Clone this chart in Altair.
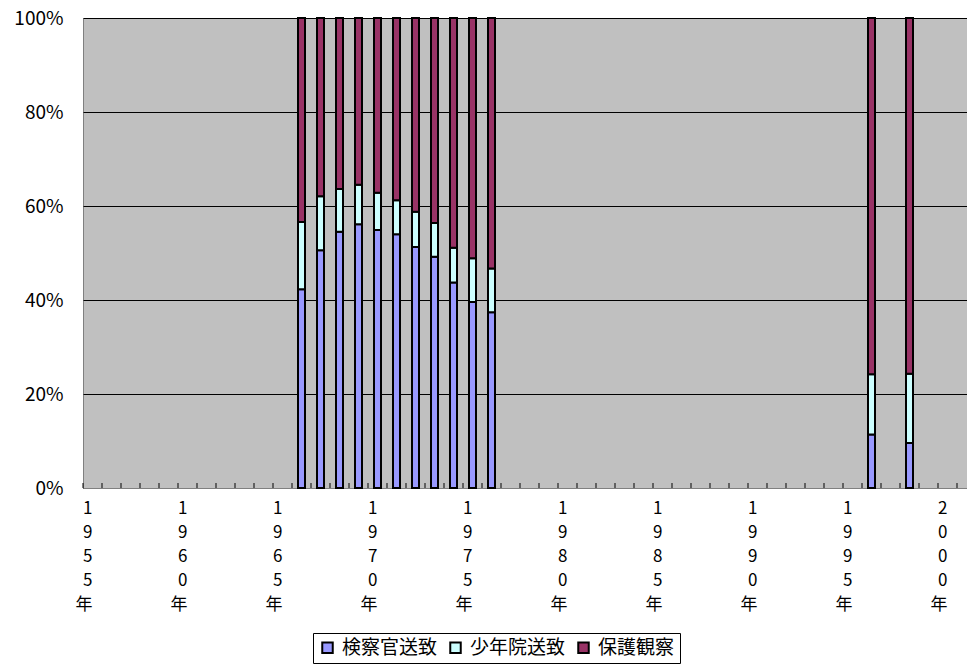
import altair as alt
import pandas as pd

# categories on the x axis (one band per year)
years = [str(y) for y in range(1955, 2002)]

# years that have data
data_years = ["1966", "1967", "1968", "1969", "1970", "1971", "1972",
              "1973", "1974", "1975", "1976", "1996", "1998"]
# shares (%)
kensatsu = [42.3, 50.6, 54.5, 56.1, 54.9, 54.0, 51.3, 49.2, 43.7, 39.6, 37.4, 11.4, 9.6]
shonenin = [14.3, 11.5, 9.1, 8.4, 7.9, 7.2, 7.5, 7.2, 7.4, 9.3, 9.3, 12.8, 14.7]
hogo = [43.4, 37.9, 36.4, 35.5, 37.2, 38.8, 41.2, 43.6, 48.9, 51.1, 53.3, 75.8, 75.7]

series = ["検察官送致", "少年院送致", "保護観察"]
colors = ["#9999FF", "#CCFFFF", "#993366"]

rows = []
for i, y in enumerate(data_years):
    for k, (name, vals) in enumerate(zip(series, [kensatsu, shonenin, hogo])):
        rows.append({"year": y, "series": name, "value": vals[i], "order": k})
df = pd.DataFrame(rows)
ticks_df = pd.DataFrame({"year": years})

FONT = "Noto Sans CJK JP"
W, H = 884, 470
XRANGE = 893  # 47 bands of 19px; the last part is cut off at the window edge

xscale = alt.Scale(domain=years, paddingInner=0, paddingOuter=0, range=[0, XRANGE])

bars = alt.Chart(df).mark_bar(size=7, stroke="black", strokeWidth=2).encode(
    x=alt.X("year:N", scale=xscale, sort=years,
            axis=alt.Axis(title=None, labelAngle=0, ticks=False, domain=True,
                          domainColor="#808080", domainWidth=1,
                          labelExpr="toNumber(datum.value) % 5 == 0 ? split(datum.value + '年', '') : ''",
                          labelFont=FONT, labelFontSize=17, labelColor="black",
                          labelLineHeight=24, labelPadding=12, labelOverlap=False,
                          labelBaseline="top")),
    y=alt.Y("value:Q", stack="normalize",
            scale=alt.Scale(domain=[0, 1], nice=False),
            axis=alt.Axis(title=None, format=".0%", values=[0, 0.2, 0.4, 0.6, 0.8, 1.0],
                          grid=True, gridColor="black", gridOpacity=1, gridWidth=1,
                          ticks=False, domain=False, labelFont=FONT, labelFontSize=19,
                          labelColor="black", labelPadding=20)),
    color=alt.Color("series:N", scale=alt.Scale(domain=series, range=colors),
                    legend=alt.Legend(title=None, orient="none", direction="horizontal",
                                      legendX=230, legendY=615,
                                      symbolType="square", symbolSize=110,
                                      symbolStrokeColor="black", symbolStrokeWidth=2,
                                      labelFont=FONT, labelFontSize=19, labelColor="black",
                                      strokeColor="black", fillColor="white",
                                      padding=5, columnPadding=8, labelOffset=5)),
    order=alt.Order("order:Q", sort="ascending"),
)

tickmarks = alt.Chart(ticks_df).mark_rule(color="black", strokeWidth=1).encode(
    x=alt.X("year:N", scale=xscale, sort=years, bandPosition=0),
    y=alt.value(H - 5),
    y2=alt.value(H),
)

chart = alt.layer(tickmarks, bars).properties(
    width=W, height=H,
    autosize=alt.AutoSizeParams(type="none"),
    padding={"left": 75, "top": 10, "right": 0, "bottom": 176},
    background="white",
).configure_view(fill="#C0C0C0", stroke="#808080", strokeWidth=1)

chart.save("out.html", embed_options={"renderer": "svg", "actions": False})
